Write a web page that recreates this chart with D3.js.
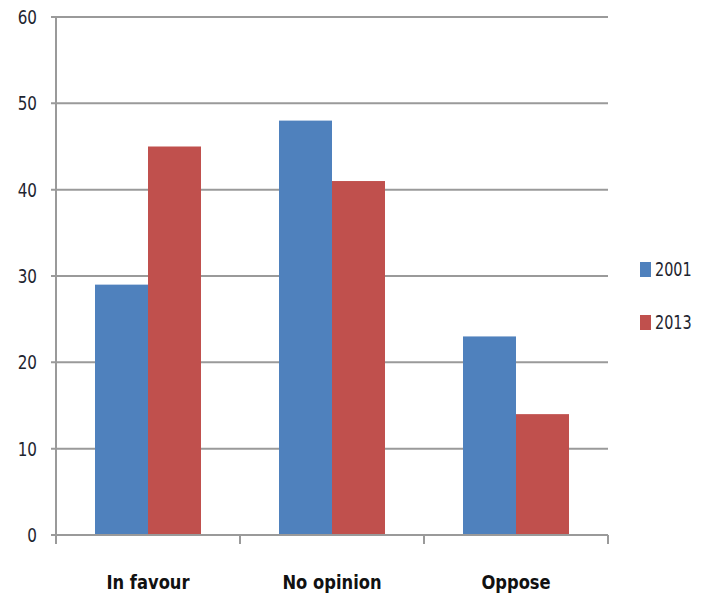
<!DOCTYPE html>
<html>
<head>
<script src="https://cdn.jsdelivr.net/npm/d3@7"></script>
</head>
<body style="margin:0; background:#fff;">
<svg id="chart" width="704" height="594"></svg>
<script>
    'use strict';

    var categories = ["In favour", "No opinion", "Oppose"];
    var series = ["2001", "2013"];
    var values2001 = [29, 48, 23];
    var values2013 = [45, 41, 14];
    var yTicks = [0, 10, 20, 30, 40, 50, 60];
    var colors = ["#4F81BD", "#C0504D"];

    var svg = d3.select("#chart");
    var plotLeft = 56, plotRight = 608, plotTop = 17, plotBottom = 535;
    var squash = 0.76; // text in the picture is narrow

    var x = d3.scaleBand().domain(categories).range([plotLeft, plotRight]).paddingInner(0).paddingOuter(0);
    var inner = d3.scaleBand().domain(series).range([39, x.bandwidth() - 39]);
    var y = d3.scaleLinear().domain([0, 60]).range([plotBottom, plotTop]);

    // grid lines + y ticks
    svg.append("g").selectAll("line").data(yTicks.filter(d => d > 0)).enter().append("line")
        .attr("x1", plotLeft - 5).attr("x2", plotRight)
        .attr("y1", d => y(d)).attr("y2", d => y(d))
        .attr("stroke", "#9a9a9a").attr("stroke-width", 2);

    var rows = [values2001, values2013];
    series.forEach(function(s, si) {
        svg.append("g").selectAll("rect").data(categories).enter().append("rect")
            .attr("x", c => x(c) + inner(s))
            .attr("width", inner.bandwidth())
            .attr("y", (c, i) => y(rows[si][i]))
            .attr("height", (c, i) => y(0) - y(rows[si][i]))
            .attr("fill", colors[si]);
    });

    // axes lines
    svg.append("line").attr("x1", plotLeft).attr("x2", plotLeft).attr("y1", plotTop).attr("y2", plotBottom + 9)
        .attr("stroke", "#9a9a9a").attr("stroke-width", 2);
    svg.append("line").attr("x1", plotLeft - 5).attr("x2", plotRight).attr("y1", plotBottom).attr("y2", plotBottom)
        .attr("stroke", "#9a9a9a").attr("stroke-width", 2);
    svg.append("g").selectAll("line").data(categories.map(c => x(c) + x.bandwidth())).enter().append("line")
        .attr("x1", d => d).attr("x2", d => d).attr("y1", plotBottom).attr("y2", plotBottom + 9)
        .attr("stroke", "#9a9a9a").attr("stroke-width", 2);

    // y labels
    svg.append("g").selectAll("text").data(yTicks).enter().append("text")
        .attr("transform", d => "translate(37," + (y(d) + 7) + ") scale(" + squash + ",1)")
        .attr("text-anchor", "end")
        .style("font-family", "DejaVu Sans").style("font-size", "20px").attr("fill", "#1e2530")
        .text(d => d);

    // x labels
    svg.append("g").selectAll("text").data(categories).enter().append("text")
        .attr("transform", c => "translate(" + (x(c) + x.bandwidth() / 2) + ",589) scale(0.86,1)")
        .attr("text-anchor", "middle")
        .style("font-family", "DejaVu Sans").style("font-weight", "bold").style("font-size", "19px").attr("fill", "#111")
        .text(c => c);

    // legend
    var legend = svg.append("g").selectAll("g").data(series).enter().append("g")
        .attr("transform", (d, i) => "translate(640," + (262 + i * 53) + ")");
    legend.append("rect").attr("width", 11).attr("height", 15).attr("fill", (d, i) => colors[i]);
    legend.append("text")
        .attr("transform", "translate(15,14) scale(" + squash + ",1)")
        .style("font-family", "DejaVu Sans").style("font-size", "19px").attr("fill", "#1e2530")
        .text(d => d);
</script>
</body>
</html>
